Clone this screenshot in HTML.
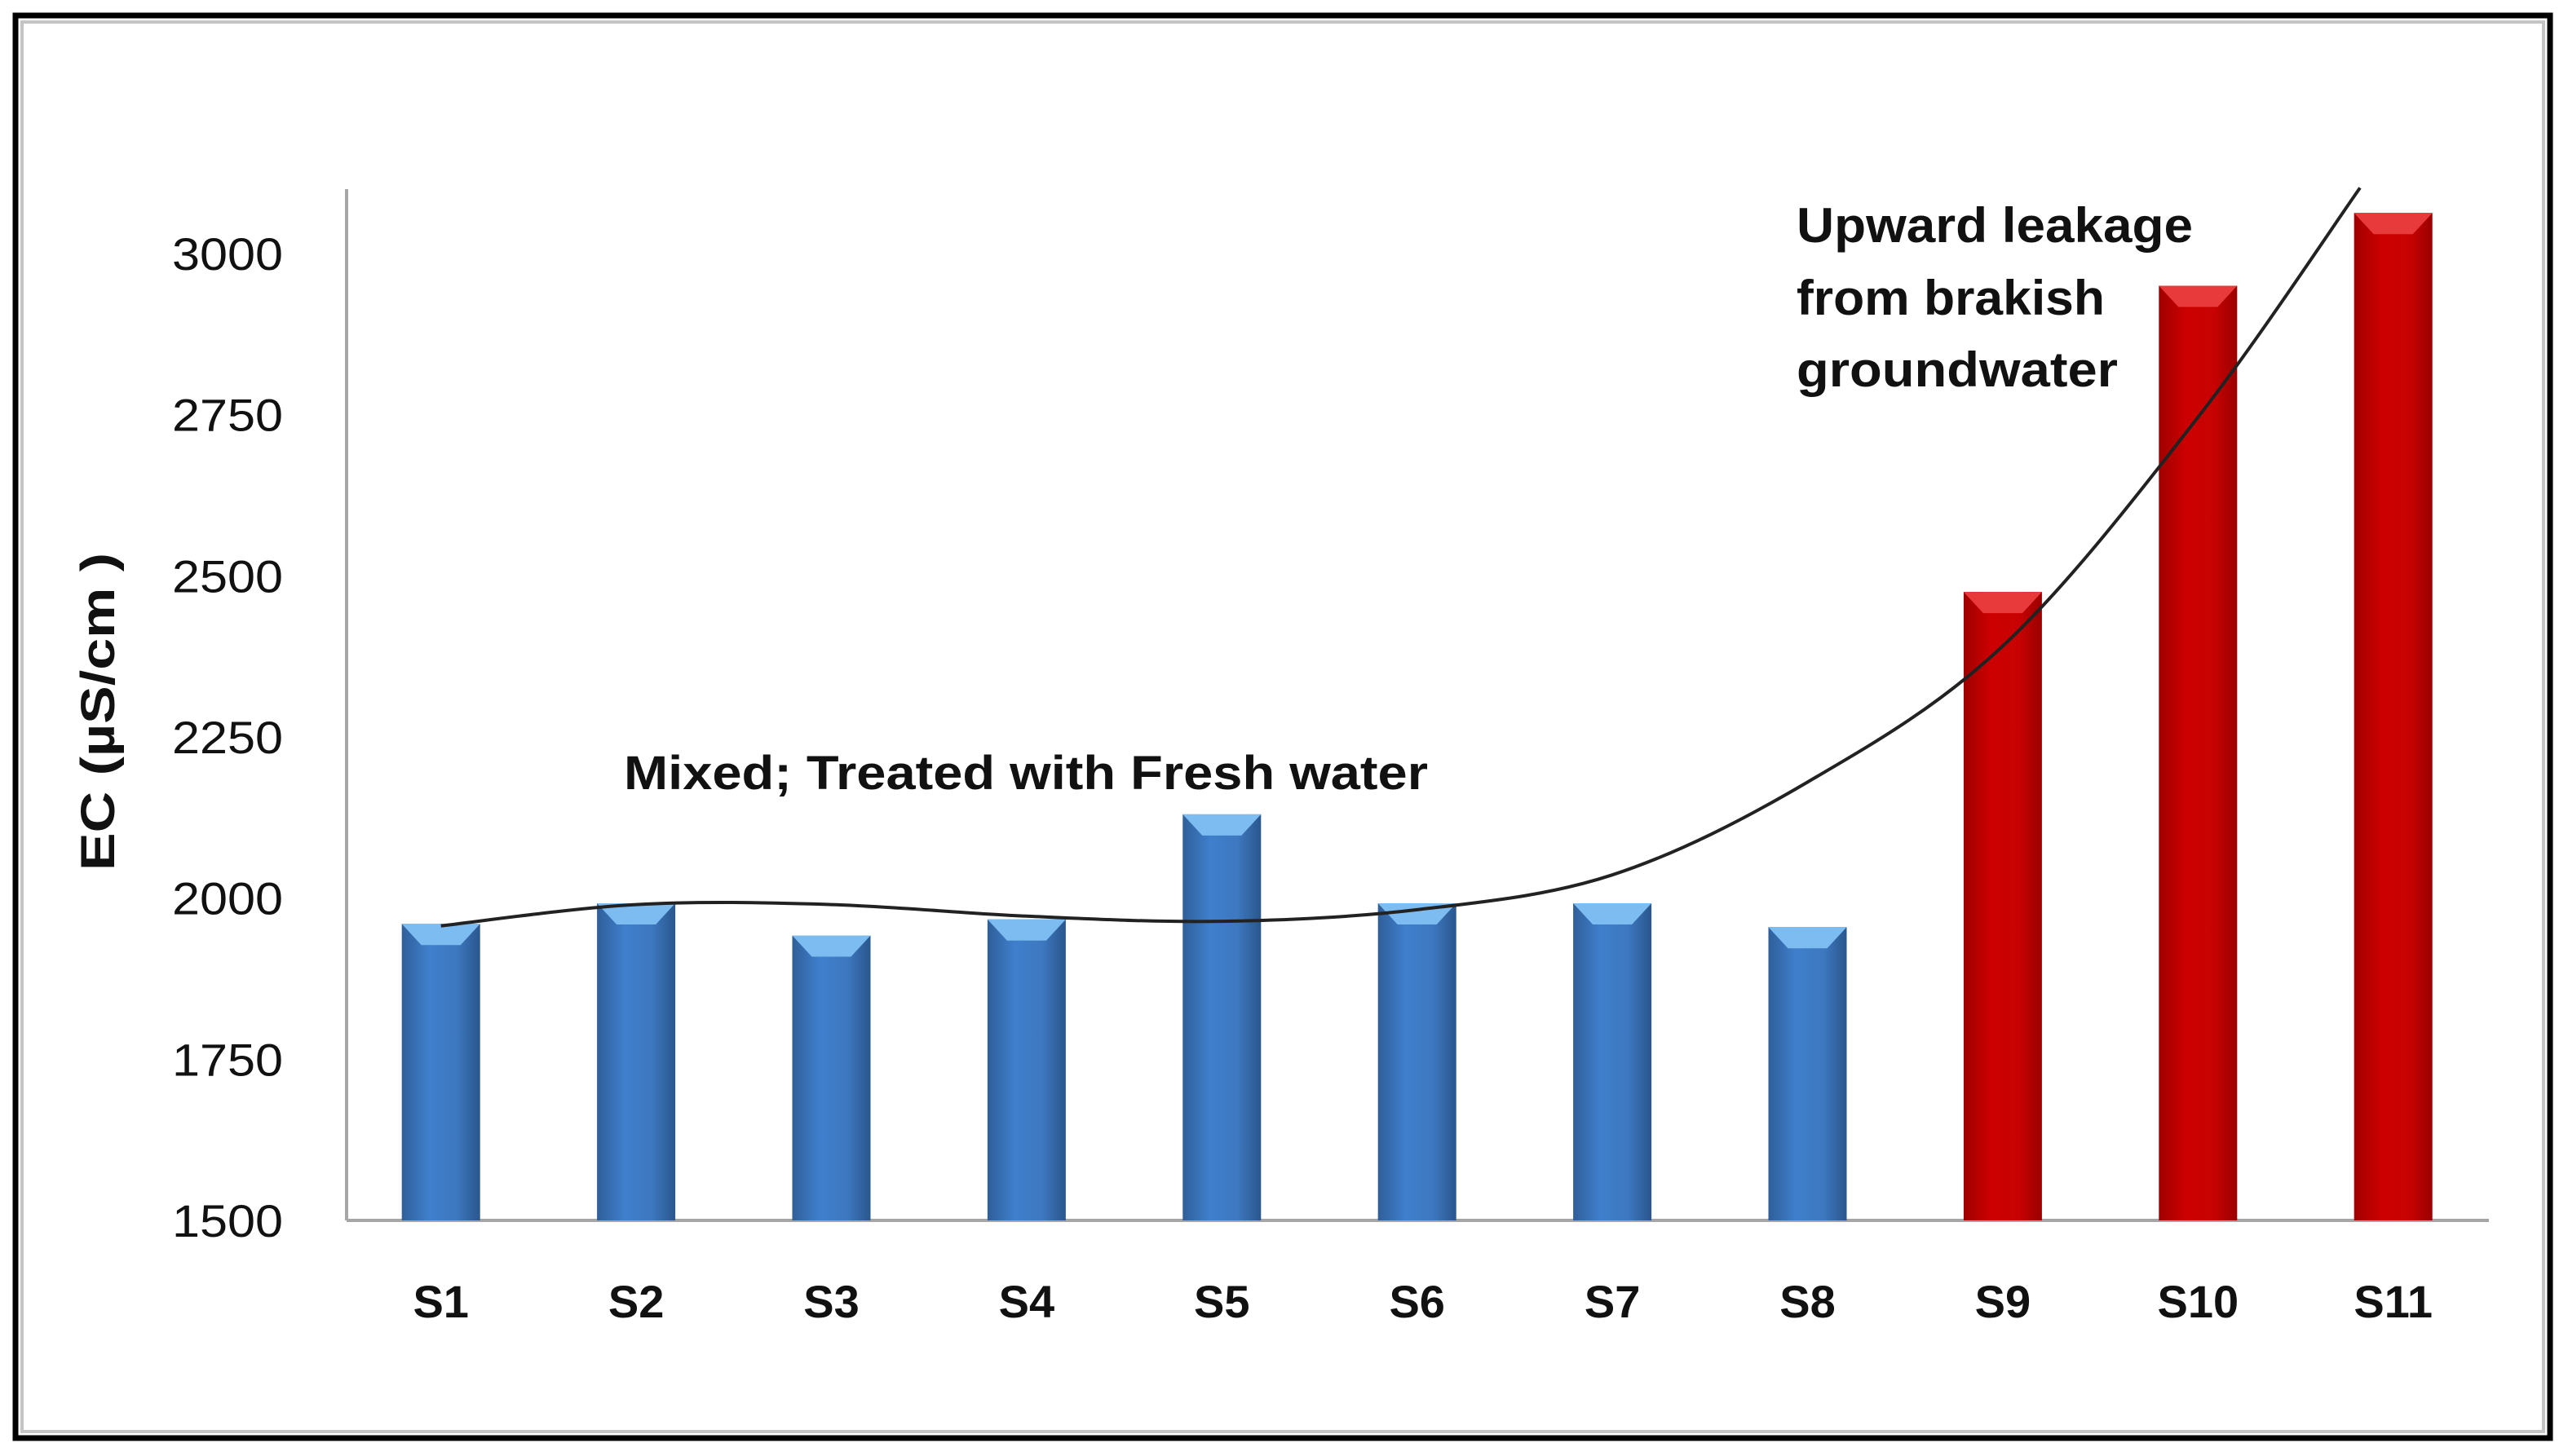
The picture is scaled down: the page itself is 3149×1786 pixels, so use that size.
<!DOCTYPE html>
<html><head><meta charset="utf-8"><style>
html,body{margin:0;padding:0;background:#fff;}
svg{display:block;}
text{font-family:"Liberation Sans",sans-serif;font-weight:bold;fill:#111;}
</style></head><body>
<svg id="chart" width="3149" height="1786" viewBox="0 0 3149 1786" xmlns="http://www.w3.org/2000/svg">
<defs>
<linearGradient id="gBlue" x1="0" x2="1" y1="0" y2="0">
<stop offset="0" stop-color="#2f5f99"/><stop offset="0.35" stop-color="#3f7fcc"/><stop offset="0.7" stop-color="#3d78c0"/><stop offset="1" stop-color="#2a568c"/></linearGradient>
<linearGradient id="gRed" x1="0" x2="1" y1="0" y2="0">
<stop offset="0" stop-color="#a00000"/><stop offset="0.35" stop-color="#cc0000"/><stop offset="0.7" stop-color="#c80202"/><stop offset="1" stop-color="#9a0000"/></linearGradient>
</defs>
<rect x="19" y="19" width="3108" height="1745" fill="none" stroke="#000" stroke-width="7"/>
<rect x="27" y="27" width="3092" height="1729" fill="none" stroke="#c4c4c4" stroke-width="4"/>
<g id="plot"></g>
<text transform="translate(140,873) rotate(-90)" text-anchor="middle" font-size="58" textLength="390" lengthAdjust="spacingAndGlyphs">EC (µS/cm )</text>
<text x="765" y="968" font-size="58" textLength="986" lengthAdjust="spacingAndGlyphs">Mixed; Treated with Fresh water</text>
<text x="2203" y="297" font-size="60" textLength="486" lengthAdjust="spacingAndGlyphs">Upward leakage</text>
<text x="2203" y="386" font-size="60" textLength="378" lengthAdjust="spacingAndGlyphs">from brakish</text>
<text x="2203" y="474" font-size="60" textLength="394" lengthAdjust="spacingAndGlyphs">groundwater</text>
</svg>
<script>
const categories = ["S1","S2","S3","S4","S5","S6","S7","S8","S9","S10","S11"];
const ecValues = [1960,1992,1942,1967,2130,1992,1992,1955,2475,2950,3063];
const trendValues = [1957,1990,1990,1972,1964,1982,2036,2180,2391,2746];
const trendEnd = [9.83,3102];
const yTicks = [1500,1750,2000,2250,2500,2750,3000];
const redFrom = 8;

const NS="http://www.w3.org/2000/svg";
const g=document.getElementById('plot');
const axisX=425, x0=421, catW=239.4, yBase=1497, yMin=1500, pxPerUnit=(1497-311)/1500;
const xc=i=>x0+catW*(i+0.5);
const ys=v=>yBase-(v-yMin)*pxPerUnit;
function mk(t,a){const e=document.createElementNS(NS,t);for(const k in a)e.setAttribute(k,a[k]);g.appendChild(e);return e;}

const ya=mk('line',{x1:axisX,y1:232,x2:axisX,y2:yBase,stroke:'#a6a6a6','stroke-width':4});


const xa=mk('line',{x1:axisX,y1:yBase,x2:3052,y2:yBase,stroke:'#a6a6a6','stroke-width':4});



yTicks.forEach(v=>{
  const t=mk('text',{x:347,y:ys(v)+20,'text-anchor':'end','font-size':56,style:'font-weight:normal',textLength:136,lengthAdjust:'spacingAndGlyphs'});
  t.textContent=v;
  
  
});

const bw=96;
categories.forEach((c,i)=>{
  const v=ecValues[i], top=ys(v), red=i>=redFrom;
  const b=mk('rect',{x:xc(i)-bw/2,y:top,width:bw,height:yBase-top,fill:red?'url(#gRed)':'url(#gBlue)'});
  
  
  const cap=mk('polygon',{points:`${xc(i)-bw/2},${top} ${xc(i)+bw/2},${top} ${xc(i)+bw/2-24},${top+26} ${xc(i)-bw/2+24},${top+26}`,fill:red?'#e83a3a':'#7cbcf0'});
  
  
  const l=mk('text',{x:xc(i),y:1616,'text-anchor':'middle','font-size':56});
  l.textContent=c;
  
  
});

const pts=trendValues.map((v,i)=>[xc(i),ys(v)]);
pts.push([x0+catW*(trendEnd[0]+0.5),ys(trendEnd[1])]);
let d=`M${pts[0][0]},${pts[0][1]}`;
for(let i=0;i<pts.length-1;i++){
  const p0=pts[Math.max(0,i-1)],p1=pts[i],p2=pts[i+1],p3=pts[Math.min(pts.length-1,i+2)];
  const c1=[p1[0]+(p2[0]-p0[0])/6,p1[1]+(p2[1]-p0[1])/6];
  const c2=[p2[0]-(p3[0]-p1[0])/6,p2[1]-(p3[1]-p1[1])/6];
  d+=` C${c1[0]},${c1[1]} ${c2[0]},${c2[1]} ${p2[0]},${p2[1]}`;
}
const tl=mk('path',{d:d,fill:'none',stroke:'#222','stroke-width':4});


</script>
</body></html>
